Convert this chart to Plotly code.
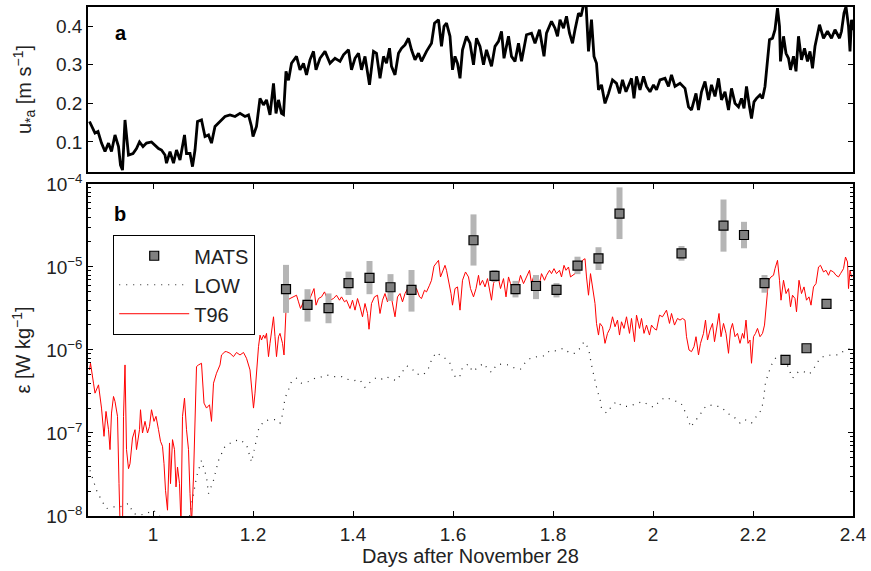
import plotly.graph_objects as go

# ---- friction velocity u*a (panel a) ----
ustar_days = [0.873, 0.884, 0.89, 0.897, 0.904, 0.911, 0.917, 0.924, 0.931, 0.935, 0.939, 0.944, 0.951,
              0.96, 0.967, 0.973, 0.98, 0.987, 0.997, 1.004, 1.011, 1.017, 1.024, 1.027, 1.034, 1.041,
              1.047, 1.054, 1.063, 1.067, 1.074, 1.079, 1.084, 1.089, 1.097, 1.104, 1.111, 1.117, 1.124,
              1.134, 1.144, 1.154, 1.164, 1.174, 1.184, 1.191, 1.197, 1.2, 1.207, 1.214, 1.221, 1.227,
              1.234, 1.241, 1.246, 1.251, 1.257, 1.261, 1.266, 1.271, 1.277, 1.287, 1.294, 1.301, 1.307,
              1.314, 1.321, 1.326, 1.334, 1.344, 1.354, 1.364, 1.374, 1.381, 1.391, 1.397, 1.404, 1.411,
              1.417, 1.424, 1.433, 1.441, 1.447, 1.454, 1.461, 1.467, 1.473, 1.477, 1.484, 1.491, 1.497,
              1.504, 1.511, 1.517, 1.524, 1.531, 1.537, 1.547, 1.557, 1.563, 1.571, 1.577, 1.582, 1.587,
              1.594, 1.599, 1.604, 1.609, 1.614, 1.619, 1.627, 1.634, 1.641, 1.647, 1.654, 1.661, 1.667,
              1.677, 1.684, 1.691, 1.697, 1.702, 1.711, 1.717, 1.724, 1.731, 1.737, 1.747, 1.757, 1.764,
              1.773, 1.782, 1.787, 1.797, 1.804, 1.809, 1.814, 1.821, 1.827, 1.833, 1.839, 1.844, 1.851,
              1.856, 1.861, 1.866, 1.871, 1.877, 1.882, 1.887, 1.891, 1.897, 1.904, 1.911, 1.919, 1.927,
              1.933, 1.939, 1.946, 1.953, 1.957, 1.962, 1.967, 1.974, 1.981, 1.987, 1.994, 2.001, 2.007,
              2.014, 2.024, 2.031, 2.037, 2.044, 2.054, 2.064, 2.071, 2.077, 2.086, 2.091, 2.097, 2.104,
              2.111, 2.117, 2.124, 2.131, 2.137, 2.144, 2.151, 2.157, 2.164, 2.171, 2.177, 2.182, 2.187,
              2.193, 2.197, 2.202, 2.207, 2.214, 2.219, 2.224, 2.229, 2.233, 2.239, 2.244, 2.249, 2.253,
              2.255, 2.261, 2.266, 2.271, 2.275, 2.281, 2.286, 2.291, 2.297, 2.303, 2.309, 2.314, 2.319,
              2.324, 2.333, 2.341, 2.349, 2.357, 2.364, 2.373, 2.377, 2.382, 2.386, 2.391, 2.394, 2.397,
              2.4]
ustar_vals = [0.153, 0.123, 0.127, 0.097, 0.075, 0.097, 0.075, 0.118, 0.088, 0.04, 0.027, 0.157, 0.066,
              0.07, 0.083, 0.1, 0.088, 0.097, 0.1, 0.092, 0.083, 0.079, 0.066, 0.045, 0.075, 0.045,
              0.079, 0.053, 0.118, 0.07, 0.07, 0.036, 0.079, 0.153, 0.157, 0.114, 0.118, 0.097, 0.14,
              0.153, 0.166, 0.17, 0.166, 0.174, 0.166, 0.17, 0.14, 0.114, 0.14, 0.213, 0.196, 0.209,
              0.17, 0.252, 0.174, 0.209, 0.174, 0.171, 0.283, 0.26, 0.304, 0.322, 0.287, 0.304, 0.274,
              0.313, 0.335, 0.287, 0.317, 0.335, 0.304, 0.317, 0.309, 0.326, 0.339, 0.287, 0.317, 0.33,
              0.287, 0.322, 0.248, 0.335, 0.33, 0.265, 0.322, 0.304, 0.343, 0.296, 0.274, 0.33, 0.343,
              0.352, 0.369, 0.339, 0.313, 0.33, 0.309, 0.335, 0.356, 0.408, 0.417, 0.348, 0.4, 0.408,
              0.374, 0.287, 0.322, 0.304, 0.265, 0.339, 0.374, 0.356, 0.3, 0.369, 0.348, 0.3, 0.339,
              0.296, 0.348, 0.361, 0.387, 0.317, 0.374, 0.322, 0.309, 0.356, 0.309, 0.378, 0.382, 0.356,
              0.391, 0.322, 0.382, 0.413, 0.395, 0.374, 0.417, 0.395, 0.426, 0.382, 0.356, 0.391, 0.434,
              0.426, 0.455, 0.46, 0.335, 0.417, 0.322, 0.304, 0.235, 0.248, 0.2, 0.226, 0.261, 0.252,
              0.226, 0.261, 0.23, 0.252, 0.265, 0.213, 0.27, 0.235, 0.27, 0.244, 0.23, 0.248, 0.235,
              0.261, 0.265, 0.244, 0.274, 0.244, 0.252, 0.239, 0.191, 0.183, 0.226, 0.183, 0.23, 0.257,
              0.209, 0.248, 0.218, 0.265, 0.209, 0.23, 0.183, 0.239, 0.2, 0.191, 0.213, 0.187, 0.244,
              0.191, 0.161, 0.204, 0.213, 0.222, 0.213, 0.244, 0.304, 0.365, 0.369, 0.391, 0.447, 0.4,
              0.309, 0.374, 0.33, 0.317, 0.287, 0.322, 0.283, 0.374, 0.313, 0.343, 0.309, 0.335, 0.291,
              0.348, 0.404, 0.369, 0.387, 0.369, 0.391, 0.369, 0.387, 0.434, 0.451, 0.4, 0.335, 0.417,
              0.39]

# ---- T96 dissipation estimate, log10(epsilon) (panel b) ----
t96_days = [0.873, 0.875, 0.881, 0.884, 0.891, 0.894, 0.897, 0.902, 0.906, 0.911, 0.914, 0.917, 0.921,
            0.924, 0.929, 0.932, 0.935, 0.939, 0.941, 0.944, 0.947, 0.951, 0.954, 0.959, 0.964, 0.967,
            0.973, 0.975, 0.979, 0.984, 0.989, 0.993, 0.997, 1.002, 1.006, 1.011, 1.015, 1.019, 1.022,
            1.025, 1.029, 1.033, 1.035, 1.039, 1.043, 1.046, 1.049, 1.053, 1.056, 1.059, 1.063, 1.067,
            1.071, 1.074, 1.077, 1.081, 1.084, 1.087, 1.091, 1.097, 1.102, 1.107, 1.113, 1.117, 1.121,
            1.127, 1.134, 1.137, 1.144, 1.147, 1.154, 1.161, 1.167, 1.174, 1.181, 1.187, 1.194, 1.197,
            1.201, 1.204, 1.207, 1.211, 1.214, 1.217, 1.221, 1.224, 1.227, 1.231, 1.234, 1.237, 1.241,
            1.244, 1.247, 1.251, 1.254, 1.259, 1.262, 1.266, 1.269, 1.274, 1.281, 1.287, 1.291, 1.295,
            1.301, 1.307, 1.311, 1.317, 1.322, 1.326, 1.331, 1.337, 1.343, 1.347, 1.354, 1.361, 1.367,
            1.373, 1.377, 1.383, 1.387, 1.394, 1.399, 1.404, 1.409, 1.414, 1.419, 1.424, 1.429, 1.432,
            1.437, 1.443, 1.449, 1.454, 1.459, 1.464, 1.469, 1.474, 1.479, 1.484, 1.489, 1.494, 1.499,
            1.504, 1.511, 1.516, 1.521, 1.527, 1.533, 1.537, 1.543, 1.547, 1.553, 1.557, 1.562, 1.566,
            1.571, 1.575, 1.579, 1.584, 1.587, 1.593, 1.596, 1.599, 1.604, 1.609, 1.614, 1.619, 1.625,
            1.631, 1.635, 1.641, 1.646, 1.651, 1.654, 1.659, 1.664, 1.669, 1.674, 1.677, 1.681, 1.686,
            1.691, 1.695, 1.701, 1.706, 1.711, 1.715, 1.721, 1.725, 1.731, 1.735, 1.741, 1.747, 1.753,
            1.757, 1.762, 1.767, 1.773, 1.777, 1.783, 1.787, 1.793, 1.797, 1.802, 1.807, 1.813, 1.817,
            1.822, 1.826, 1.831, 1.835, 1.839, 1.844, 1.849, 1.854, 1.859, 1.864, 1.867, 1.871, 1.875,
            1.879, 1.884, 1.887, 1.891, 1.894, 1.899, 1.904, 1.909, 1.914, 1.919, 1.924, 1.929, 1.933,
            1.937, 1.942, 1.947, 1.953, 1.957, 1.963, 1.967, 1.973, 1.977, 1.982, 1.987, 1.993, 1.997,
            2.002, 2.007, 2.013, 2.019, 2.027, 2.033, 2.037, 2.043, 2.049, 2.054, 2.059, 2.064, 2.067,
            2.072, 2.077, 2.082, 2.086, 2.091, 2.095, 2.101, 2.105, 2.109, 2.114, 2.119, 2.123, 2.127,
            2.132, 2.136, 2.141, 2.146, 2.151, 2.155, 2.159, 2.164, 2.169, 2.174, 2.179, 2.182, 2.186,
            2.19, 2.194, 2.197, 2.201, 2.205, 2.209, 2.214, 2.219, 2.223, 2.227, 2.231, 2.236, 2.241,
            2.244, 2.249, 2.253, 2.256, 2.261, 2.266, 2.271, 2.275, 2.279, 2.284, 2.287, 2.292, 2.297,
            2.302, 2.307, 2.312, 2.316, 2.321, 2.326, 2.331, 2.335, 2.341, 2.346, 2.351, 2.355, 2.361,
            2.366, 2.371, 2.375, 2.381, 2.385, 2.389, 2.391, 2.394, 2.397, 2.4]
t96_log10 = [-6.24, -6.16, -6.40, -6.52, -6.42, -6.56, -6.70, -7.04, -6.74, -6.96, -7.20, -6.76, -6.56,
             -6.62, -6.80, -7.61, -8.30, -8.20, -6.80, -6.18, -7.20, -7.43, -7.37, -7.06, -6.96, -7.20,
             -6.96, -6.72, -7.00, -6.86, -7.00, -6.92, -6.72, -6.86, -6.80, -6.96, -7.10, -7.16, -7.37,
             -7.69, -7.93, -7.12, -7.61, -7.08, -7.20, -7.65, -7.41, -7.61, -8.10, -6.80, -6.58, -6.96,
             -7.20, -7.73, -8.10, -7.53, -6.80, -6.20, -6.18, -6.16, -6.64, -6.70, -6.66, -6.86, -6.40,
             -6.28, -6.18, -6.06, -6.02, -6.02, -6.04, -6.08, -6.03, -6.06, -6.03, -6.10, -6.24, -6.48,
             -6.70, -6.52, -6.24, -5.96, -5.82, -5.88, -5.82, -5.86, -5.80, -6.08, -5.92, -5.76, -5.60,
             -5.84, -6.08, -5.84, -5.80, -5.92, -6.06, -5.52, -5.40, -5.38, -5.36, -5.34, -5.42, -5.50,
             -5.42, -5.52, -5.42, -5.34, -5.26, -5.46, -5.38, -5.36, -5.30, -5.36, -5.40, -5.38, -5.34,
             -5.40, -5.36, -5.42, -5.40, -5.50, -5.40, -5.52, -5.38, -5.48, -5.60, -5.44, -5.56, -5.75,
             -5.44, -5.36, -5.34, -5.56, -5.40, -5.32, -5.42, -5.28, -5.44, -5.60, -5.36, -5.32, -5.42,
             -5.32, -5.24, -5.22, -5.30, -5.26, -5.36, -5.38, -5.28, -5.30, -5.22, -5.16, -4.99, -4.96,
             -4.92, -5.12, -5.06, -4.98, -5.04, -5.20, -5.32, -5.46, -5.26, -5.24, -5.52, -5.16, -5.06,
             -5.12, -5.26, -5.36, -5.26, -5.10, -5.22, -5.16, -5.24, -5.14, -5.34, -5.40, -5.20, -5.12,
             -5.14, -5.26, -5.14, -5.36, -5.12, -5.20, -5.28, -5.34, -5.20, -5.10, -5.20, -5.12, -5.04,
             -5.20, -5.10, -5.14, -5.20, -5.08, -5.16, -5.10, -5.04, -5.08, -5.02, -5.08, -5.04, -5.12,
             -4.98, -5.04, -5.00, -5.12, -5.10, -5.08, -5.02, -5.00, -4.92, -4.90, -5.12, -5.34, -5.08,
             -5.24, -5.44, -5.68, -5.82, -5.68, -5.72, -5.92, -5.80, -5.74, -5.60, -5.72, -5.64, -5.82,
             -5.66, -5.74, -5.60, -5.80, -5.62, -5.90, -5.58, -5.74, -5.62, -5.80, -5.70, -5.82, -5.70,
             -5.74, -5.76, -5.58, -5.60, -5.52, -5.68, -5.56, -5.70, -5.62, -5.64, -5.62, -5.64, -5.84,
             -6.00, -6.02, -5.96, -5.84, -6.06, -5.92, -5.80, -5.64, -5.88, -5.76, -5.68, -5.90, -5.72,
             -5.56, -5.84, -5.68, -5.80, -6.04, -5.76, -5.68, -5.84, -5.80, -5.92, -5.80, -5.86, -5.64,
             -5.92, -5.88, -6.16, -5.84, -5.80, -5.74, -5.84, -5.80, -5.70, -5.44, -5.16, -5.12, -5.10,
             -5.02, -4.92, -5.16, -5.40, -5.16, -5.32, -5.26, -5.48, -5.34, -5.38, -5.54, -5.16, -5.32,
             -5.24, -5.40, -5.36, -5.46, -5.24, -5.20, -5.00, -4.98, -5.06, -5.04, -5.10, -5.04, -5.06,
             -5.10, -5.12, -5.08, -5.02, -4.88, -4.94, -5.26, -5.04, -5.12, -5.10]

# ---- LOW (law-of-the-wall) estimate, log10(epsilon) ----
low_days = [0.874, 0.887, 0.897, 0.907, 0.921, 0.934, 0.951, 0.961, 0.974, 0.987, 1.001, 1.014, 1.03,
            1.05, 1.07, 1.08, 1.087, 1.097, 1.107, 1.111, 1.121, 1.131, 1.144, 1.161, 1.174, 1.187,
            1.197, 1.204, 1.211, 1.221, 1.234, 1.247, 1.254, 1.259, 1.264, 1.271, 1.277, 1.287, 1.297,
            1.311, 1.324, 1.334, 1.347, 1.361, 1.377, 1.387, 1.401, 1.414, 1.424, 1.434, 1.447, 1.457,
            1.466, 1.477, 1.487, 1.497, 1.507, 1.517, 1.527, 1.541, 1.551, 1.557, 1.566, 1.574, 1.584,
            1.594, 1.599, 1.606, 1.614, 1.619, 1.631, 1.639, 1.651, 1.661, 1.671, 1.677, 1.687, 1.697,
            1.711, 1.724, 1.735, 1.746, 1.757, 1.771, 1.783, 1.793, 1.804, 1.821, 1.834, 1.844, 1.854,
            1.862, 1.871, 1.877, 1.884, 1.889, 1.894, 1.897, 1.907, 1.917, 1.927, 1.939, 1.951, 1.961,
            1.971, 1.979, 1.991, 2.001, 2.013, 2.024, 2.034, 2.044, 2.056, 2.064, 2.071, 2.075, 2.084,
            2.094, 2.102, 2.113, 2.123, 2.133, 2.142, 2.151, 2.161, 2.174, 2.184, 2.197, 2.207, 2.217,
            2.221, 2.225, 2.231, 2.237, 2.247, 2.261, 2.271, 2.279, 2.291, 2.301, 2.313, 2.324, 2.334,
            2.344, 2.357, 2.371, 2.384, 2.397]
low_log10 = [-7.45, -7.69, -7.81, -7.91, -7.89, -7.89, -7.85, -7.97, -7.99, -7.97, -7.93, -8.00, -8.10,
             -8.15, -8.10, -7.77, -7.53, -7.33, -7.53, -7.73, -7.57, -7.33, -7.16, -7.10, -7.08, -7.14,
             -7.35, -7.16, -6.96, -6.86, -6.84, -6.84, -6.88, -6.78, -6.58, -6.48, -6.38, -6.34, -6.40,
             -6.38, -6.34, -6.33, -6.30, -6.32, -6.32, -6.35, -6.37, -6.36, -6.45, -6.39, -6.33, -6.35,
             -6.32, -6.35, -6.37, -6.28, -6.19, -6.22, -6.29, -6.30, -6.22, -6.12, -6.03, -6.06, -6.10,
             -6.16, -6.26, -6.34, -6.31, -6.21, -6.17, -6.26, -6.20, -6.16, -6.24, -6.27, -6.18, -6.17,
             -6.18, -6.22, -6.23, -6.14, -6.09, -6.08, -6.07, -6.01, -6.01, -5.98, -6.04, -6.04, -5.98,
             -5.90, -5.98, -6.18, -6.38, -6.50, -6.59, -6.70, -6.76, -6.68, -6.62, -6.68, -6.68, -6.66,
             -6.64, -6.62, -6.66, -6.69, -6.62, -6.57, -6.59, -6.61, -6.64, -6.74, -6.84, -6.93, -6.86,
             -6.78, -6.70, -6.66, -6.68, -6.68, -6.72, -6.77, -6.80, -6.88, -6.84, -6.88, -6.80, -6.72,
             -6.60, -6.39, -6.28, -6.18, -6.08, -6.06, -6.22, -6.34, -6.26, -6.26, -6.29, -6.20, -6.10,
             -6.07, -6.06, -6.06, -6.00, -5.98]

# ---- MATS microstructure estimates with ranges ----
mats_days = [1.266, 1.309, 1.351, 1.391, 1.433, 1.475, 1.517, 1.641, 1.683, 1.725, 1.766, 1.807, 1.849,
             1.891, 1.933, 2.057, 2.141, 2.182, 2.223, 2.265, 2.307, 2.347]
mats_eps = [5.4e-6, 3.5e-6, 3.2e-6, 6.4e-6, 7.4e-6, 5.7e-6, 5.3e-6, 2.1e-5, 7.8e-6, 5.4e-6, 5.9e-6,
            5.3e-6, 1.04e-5, 1.27e-5, 4.4e-5, 1.46e-5, 3.15e-5, 2.43e-5, 6.4e-6, 7.6e-7, 1.05e-6, 3.6e-6]
mats_low = [2.8e-6, 2.2e-6, 2.1e-6, 4.6e-6, 4.7e-6, 3.9e-6, 2.9e-6, 1.04e-5, 6.6e-6, 4.3e-6, 4.1e-6,
            4.3e-6, 8.2e-6, 9.2e-6, 2.17e-5, 1.19e-5, 1.53e-5, 1.68e-5, 4.9e-6, 6.8e-7, 9.3e-7, 3.2e-6]
mats_high = [1.06e-5, 5.4e-6, 4.8e-6, 8.8e-6, 1.18e-5, 8.2e-6, 9.2e-6, 4.3e-5, 9.2e-6, 6.8e-6, 8.0e-6,
             6.4e-6, 1.33e-5, 1.73e-5, 9.1e-5, 1.79e-5, 6.5e-5, 3.5e-5, 8.0e-6, 8.5e-7, 1.18e-6, 4.0e-6]

x_ticks = [1, 1.2, 1.4, 1.6, 1.8, 2, 2.2, 2.4]
x_ticktext = ["1", "1.2", "1.4", "1.6", "1.8", "2", "2.2", "2.4"]
u_ticks = [0.1, 0.2, 0.3, 0.4]
eps_ticks = [1e-8, 1e-7, 1e-6, 1e-5, 1e-4]
eps_ticktext = ["10<sup>\u22128</sup>", "10<sup>\u22127</sup>", "10<sup>\u22126</sup>",
                "10<sup>\u22125</sup>", "10<sup>\u22124</sup>"]

FONT = "Liberation Sans, Arial, Helvetica, sans-serif"
TXT = "#222222"
TICK_SIZE = 19
TITLE_SIZE = 20

fig = go.Figure()

fig.add_trace(go.Scatter(x=ustar_days, y=ustar_vals, mode="lines",
                         line=dict(color="black", width=2.8), showlegend=False,
                         xaxis="x", yaxis="y"))

fig.add_trace(go.Scatter(x=low_days, y=[10 ** v for v in low_log10], mode="lines", name="LOW",
                         line=dict(color="#222222", width=1.2, dash="1px,6px"),
                         legendrank=2, xaxis="x2", yaxis="y2"))

fig.add_trace(go.Scatter(x=t96_days, y=[10 ** v for v in t96_log10], mode="lines", name="T96",
                         line=dict(color="#ff0000", width=1), legendrank=3,
                         xaxis="x2", yaxis="y2"))

fig.add_trace(go.Scatter(
    x=mats_days, y=mats_eps, mode="markers", name="MATS", legendrank=1,
    marker=dict(symbol="square", size=9, color="#808080", line=dict(color="black", width=1.2)),
    error_y=dict(type="data", symmetric=False,
                 array=[h - v for h, v in zip(mats_high, mats_eps)],
                 arrayminus=[v - l for v, l in zip(mats_eps, mats_low)],
                 color="#b5b5b5", thickness=6, width=0),
    xaxis="x2", yaxis="y2"))

axis_common = dict(showline=True, linecolor="black", linewidth=1.5, mirror=True, automargin=False,
                   showgrid=False, zeroline=False, ticks="inside", ticklen=5,
                   tickcolor="black", tickfont=dict(family=FONT, size=TICK_SIZE, color=TXT))

minor_vals = [k * 10 ** e for e in range(-8, -4) for k in range(2, 10)]

fig.update_layout(
    width=871, height=571,
    margin=dict(l=88, r=18, t=7, b=55),
    plot_bgcolor="white", paper_bgcolor="white",
    font=dict(family=FONT, color=TXT),
    xaxis=dict(axis_common, domain=[0, 1], range=[0.87, 2.4], anchor="y",
               showticklabels=False, ticks="", matches="x2"),
    yaxis=dict(axis_common, domain=[0.6758, 1], range=[0.022, 0.45], anchor="x",
               tickvals=u_ticks, ticktext=["0.1", "0.2", "0.3", "0.4"], mirror="ticks",
               title=dict(text="u<sub>*a</sub> [m s<sup>\u22121</sup>]",
                          font=dict(family=FONT, size=TITLE_SIZE, color=TXT), standoff=19)),
    xaxis2=dict(axis_common, domain=[0, 1], range=[0.87, 2.4], anchor="y2",
                tickvals=x_ticks, ticktext=x_ticktext, mirror="ticks",
                title=dict(text="Days after November 28",
                           font=dict(family=FONT, size=TITLE_SIZE, color=TXT), standoff=2)),
    yaxis2=dict(axis_common, domain=[0, 0.6523], type="log", range=[-8, -4], anchor="x2",
                tickvals=eps_ticks, ticktext=eps_ticktext, mirror="ticks",
                minor=dict(tickvals=minor_vals, ticks="inside", ticklen=3, tickcolor="black",
                           showgrid=False),
                title=dict(text="\u03b5 [W kg<sup>\u22121</sup>]",
                           font=dict(family=FONT, size=TITLE_SIZE, color=TXT), standoff=10)),
    legend=dict(x=0.0327, y=0.552, xref="paper", yref="paper", xanchor="left", yanchor="top",
                bordercolor="black", borderwidth=1.2, bgcolor="white",
                font=dict(family=FONT, size=20, color=TXT), itemwidth=70,
                tracegroupgap=0),
    annotations=[
        dict(text="<b>a</b>", x=0.043, y=0.845, xref="x domain", yref="y domain",
             xanchor="center", yanchor="middle", showarrow=False,
             font=dict(family=FONT, size=20, color="black")),
        dict(text="<b>b</b>", x=0.042, y=0.91, xref="x2 domain", yref="y2 domain",
             xanchor="center", yanchor="middle", showarrow=False,
             font=dict(family=FONT, size=20, color="black")),
    ],
)

fig.write_html("out.html")
